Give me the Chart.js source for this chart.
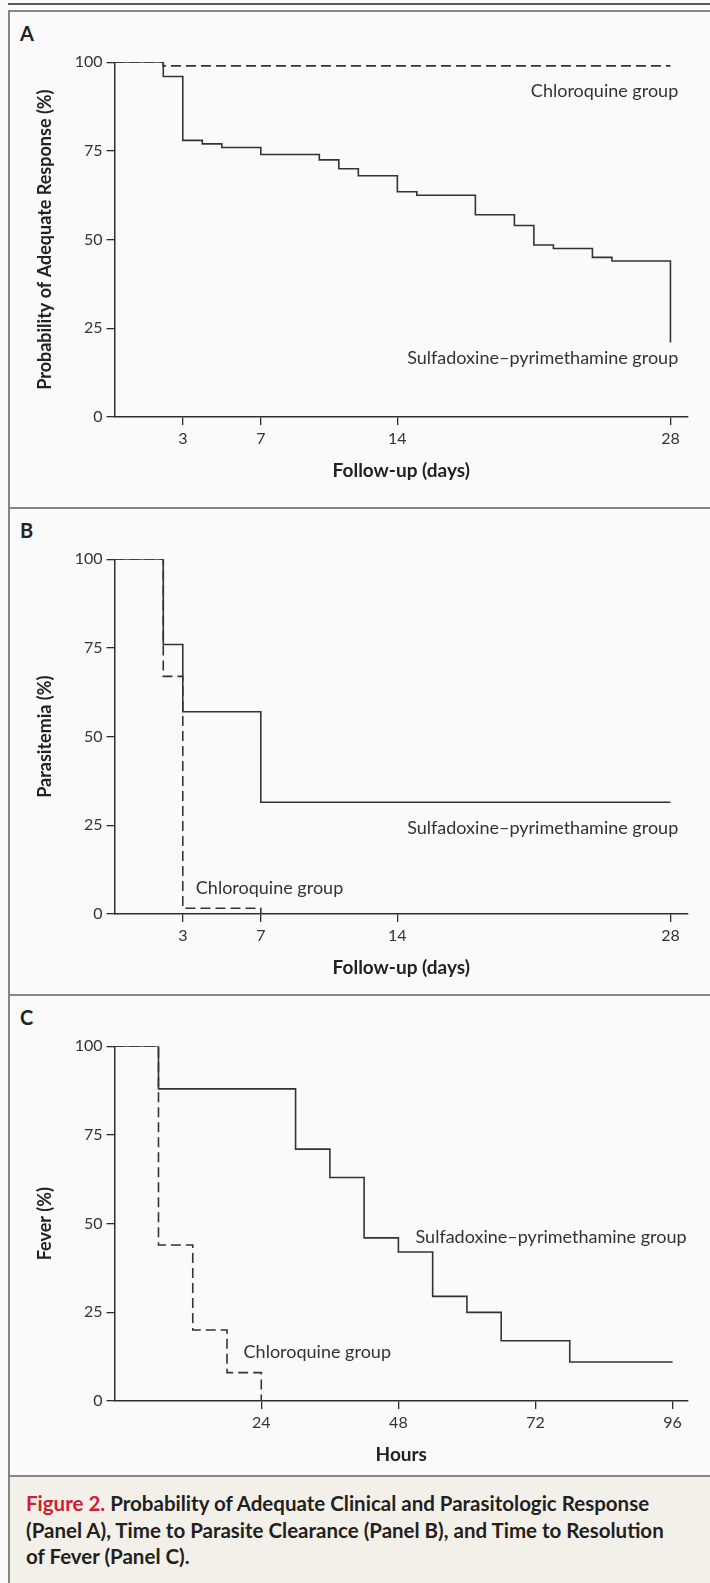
<!DOCTYPE html>
<html>
<head>
<meta charset="utf-8">
<script src="https://cdn.jsdelivr.net/npm/chart.js@4.4.1/dist/chart.umd.min.js"></script>
<style>
  body { margin: 0; width: 710px; height: 1583px; position: relative; overflow: hidden;
         background: #fafafa; font-family: Lato, "Open Sans", sans-serif; color: #2b2b2b; }
  .rule { position: absolute; left: 8px; right: 0; height: 2px; background: #5a5a5a; }
  .hline { position: absolute; left: 8px; right: 0; height: 2px; background: #858585; }
  .vline { position: absolute; left: 8px; width: 2px; top: 10px; bottom: 0; background: #858585; }
  .caption-bg { position: absolute; left: 10px; right: 0; top: 1477px; bottom: 0; background: #f3f0ea; }
  .letter { position: absolute; left: 20px; font-weight: bold; font-size: 20px; line-height: 24px; color: #222; }
  .panel { position: absolute; left: 0; width: 710px; height: 500px; }
  .caption { position: absolute; left: 26px; top: 1490px; font-weight: bold; font-size: 20.5px;
             line-height: 26.7px; color: #231f20; white-space: nowrap; }
  .caption .fig { color: #cf2030; }
</style>
</head>
<body>
<div class="rule" style="top:3px"></div>
<div class="caption-bg"></div>
<div class="hline" style="top:10px"></div>
<div class="hline" style="top:507px"></div>
<div class="hline" style="top:994px"></div>
<div class="hline" style="top:1475px"></div>
<div class="vline"></div>

<div class="letter" style="top:21px">A</div>
<div class="letter" style="top:518px">B</div>
<div class="letter" style="top:1005px">C</div>

<div class="panel" style="top:0px"><canvas id="chartA"></canvas></div>
<div class="panel" style="top:497px"><canvas id="chartB"></canvas></div>
<div class="panel" style="top:984.4px"><canvas id="chartC"></canvas></div>

<div class="caption"><span class="fig">Figure 2.</span> Probability of Adequate Clinical and Parasitologic Response<br>(Panel A), Time to Parasite Clearance (Panel B), and Time to Resolution<br>of Fever (Panel C).</div>

<script>
const INK = '#333333';
const AXIS = '#2e2e2e';

// axis ranges (the drawn axes start a little before time 0)
const DAY_MIN = -0.5, DAY_MAX = 28.9;
const HOUR_MIN = -1.7, HOUR_MAX = 98.7;
const dayTicks = [3, 7, 14, 28];
const hourTicks = [24, 48, 72, 96];
const pctTicks = [0, 25, 50, 75, 100];

// ── Panel A: adequate response ──────────────────────────────
const aSpDays = [DAY_MIN, 2, 3, 4, 5, 7, 10, 11, 12, 14, 15, 18, 20, 21, 22, 24, 25, 28];
const aSpPct  = [100, 96, 78, 77, 76, 74, 72.5, 70, 68, 63.5, 62.5, 57, 54, 48.5, 47.5, 45, 44, 21];
const aCqDays = [DAY_MIN, 2, 28];
const aCqPct  = [100, 99, 99];

// ── Panel B: parasitemia ────────────────────────────────────
const bSpDays = [DAY_MIN, 2, 3, 7, 28];
const bSpPct  = [100, 76, 57, 31.5, 31.5];
const bCqDays = [DAY_MIN, 2, 3, 7];
const bCqPct  = [100, 67, 1.6, 0];

// ── Panel C: fever ──────────────────────────────────────────
const cSpHours = [HOUR_MIN, 6, 30, 36, 42, 48, 54, 60, 66, 78, 96];
const cSpPct   = [100, 88, 71, 63, 46, 42, 29.5, 25, 17, 11, 11];
const cCqHours = [HOUR_MIN, 6, 12, 18, 24];
const cCqPct   = [100, 44, 20, 8, 0];

const SP_LABEL = 'Sulfadoxine–pyrimethamine group';
const CQ_LABEL = 'Chloroquine group';

const pts = (xs, ys) => xs.map((x, i) => ({ x, y: ys[i] }));

// text next to the curves, placed in data units
const curveLabels = {
  id: 'curveLabels',
  afterDatasetsDraw(chart, args, opts) {
    const { ctx, scales: { x, y } } = chart;
    ctx.save();
    ctx.font = '18px Lato';
    ctx.fillStyle = INK;
    ctx.textBaseline = 'middle';
    (opts.items || []).forEach(it => {
      ctx.textAlign = it.align;
      ctx.fillText(it.text, x.getPixelForValue(it.x), y.getPixelForValue(it.y));
    });
    ctx.restore();
  }
};

function kmChart(id, o) {
  return new Chart(document.getElementById(id), {
    type: 'line',
    data: {
      datasets: [
        { data: pts(o.sp[0], o.sp[1]), borderColor: INK, borderWidth: 1.6, stepped: true, pointRadius: 0, fill: false },
        { data: pts(o.cq[0], o.cq[1]), borderColor: INK, borderWidth: 1.6, borderDash: [10, 5], stepped: true, pointRadius: 0, fill: false },
      ],
    },
    options: {
      animation: false,
      responsive: true,
      maintainAspectRatio: false,
      layout: { padding: { left: 0, right: 22, top: 62.3, bottom: 0 } },
      plugins: {
        legend: { display: false },
        tooltip: { enabled: false },
        curveLabels: { items: o.labels },
      },
      scales: {
        x: {
          type: 'linear', min: o.xMin, max: o.xMax,
          afterBuildTicks: s => { s.ticks = o.xTicks.map(v => ({ value: v })); },
          afterFit: s => { s.height = 83; },
          grid: { drawOnChartArea: false, tickLength: 8, color: AXIS, lineWidth: 1.3 },
          border: { color: AXIS, width: 1.5 },
          ticks: { padding: 4, color: INK, maxRotation: 0, autoSkip: false, font: { family: 'Lato', size: 16 } },
          title: { display: true, text: o.xTitle, color: '#222', font: { family: 'Lato', size: 19, weight: 'bold' }, padding: { top: 0, bottom: 18 } },
        },
        y: {
          type: 'linear', min: 0, max: 100,
          afterBuildTicks: s => { s.ticks = pctTicks.map(v => ({ value: v })); },
          afterFit: s => { s.width = 114.5; },
          grid: { drawOnChartArea: false, tickLength: 8, color: AXIS, lineWidth: 1.3 },
          border: { color: AXIS, width: 1.5 },
          ticks: { padding: 4, color: INK, font: { family: 'Lato', size: 16 } },
          title: { display: true, text: o.yTitle, color: '#222', font: { family: 'Lato', size: 18, weight: 'bold' }, padding: { top: 34, bottom: 0 } },
        },
      },
    },
    plugins: [curveLabels],
  });
}

kmChart('chartA', {
  sp: [aSpDays, aSpPct], cq: [aCqDays, aCqPct],
  xMin: DAY_MIN, xMax: DAY_MAX, xTicks: dayTicks,
  xTitle: 'Follow-up (days)', yTitle: 'Probability of Adequate Response (%)',
  labels: [
    { text: CQ_LABEL, x: 28.4, y: 91.9, align: 'right' },
    { text: SP_LABEL, x: 28.4, y: 16.6, align: 'right' },
  ],
});

kmChart('chartB', {
  sp: [bSpDays, bSpPct], cq: [bCqDays, bCqPct],
  xMin: DAY_MIN, xMax: DAY_MAX, xTicks: dayTicks,
  xTitle: 'Follow-up (days)', yTitle: 'Parasitemia (%)',
  labels: [
    { text: SP_LABEL, x: 28.4, y: 24.2, align: 'right' },
    { text: CQ_LABEL, x: 3.67, y: 7.3, align: 'left' },
  ],
});

kmChart('chartC', {
  sp: [cSpHours, cSpPct], cq: [cCqHours, cCqPct],
  xMin: HOUR_MIN, xMax: HOUR_MAX, xTicks: hourTicks,
  xTitle: 'Hours', yTitle: 'Fever (%)',
  labels: [
    { text: SP_LABEL, x: 51, y: 46.3, align: 'left' },
    { text: CQ_LABEL, x: 20.9, y: 13.8, align: 'left' },
  ],
});
</script>
</body>
</html>
